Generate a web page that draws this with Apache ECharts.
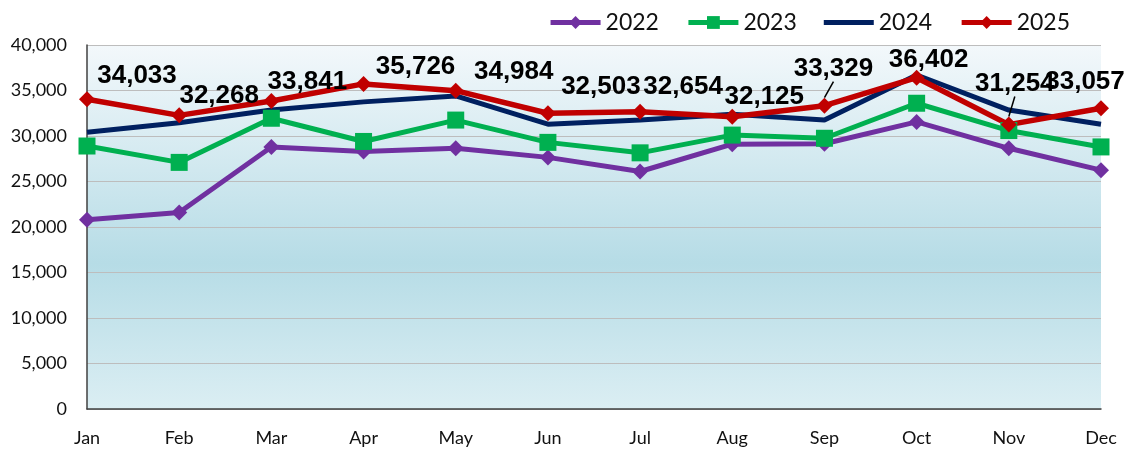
<!DOCTYPE html>
<html>
<head>
<meta charset="utf-8">
<script src="https://cdn.jsdelivr.net/npm/echarts@6/dist/echarts.min.js"></script>
<style>
  html, body { margin: 0; padding: 0; background: #fff; }
  #chart { width: 1131px; height: 450px; }
</style>
</head>
<body>
<div id="chart"></div>
<script>
// Data
var months = ['Jan', 'Feb', 'Mar', 'Apr', 'May', 'Jun', 'Jul', 'Aug', 'Sep', 'Oct', 'Nov', 'Dec'];
var y2022 = [20800, 21600, 28800, 28300, 28650, 27650, 26100, 29100, 29150, 31550, 28650, 26250];
var y2023 = [28900, 27100, 31950, 29400, 31750, 29300, 28150, 30100, 29750, 33600, 30600, 28800];
var y2024 = [30400, 31450, 32850, 33750, 34400, 31300, 31750, 32400, 31750, 36700, 32850, 31300];
var y2025 = [34033, 32268, 33841, 35726, 34984, 32503, 32654, 32125, 33329, 36402, 31254, 33057];
var yTicks = [0, 5000, 10000, 15000, 20000, 25000, 30000, 35000, 40000];

// Label placement for the 2025 values (offset from the point)
var labelOffsets = [[50, -23], [40, -20], [36, -19], [52, -17], [58, -19], [53, -26],
                    [43, -25], [32, -20], [9, -37], [12, -18], [6, -41], [-16, -26]];
var leaderIdx = [8, 10];

var chart = echarts.init(document.getElementById('chart'));

var axisFont = 'Lato, "Open Sans", sans-serif';

chart.setOption({
    animation: false,
    textStyle: { fontFamily: axisFont },
    legend: {
        top: 6,
        right: 56,
        itemWidth: 50,
        itemHeight: 16,
        itemGap: 27,
        lineStyle: { width: 5 },
        textStyle: { fontSize: 23, color: '#111', fontFamily: axisFont },
        data: [
            '2022',
            '2023',
            { name: '2024', icon: 'path://M0,0 L50,0 L50,5 L0,5 Z' },
            '2025'
        ]
    },
    grid: {
        left: 87,
        right: 30,
        top: 45,
        bottom: 41,
        show: true,
        borderWidth: 0,
        backgroundColor: new echarts.graphic.LinearGradient(0, 0, 0, 1, [
            { offset: 0, color: '#f3f8fb' },
            { offset: 0.6, color: '#b6dce6' },
            { offset: 1, color: '#dbeef3' }
        ])
    },
    xAxis: {
        type: 'category',
        data: months,
        boundaryGap: false,
        axisLine: { lineStyle: { color: '#404040', width: 1.5 } },
        axisTick: { show: false },
        axisLabel: { color: '#111', fontSize: 18, margin: 20 }
    },
    yAxis: {
        type: 'value',
        min: yTicks[0],
        max: yTicks[yTicks.length - 1],
        interval: 5000,
        axisLine: { show: true, lineStyle: { color: '#404040', width: 1.5 } },
        axisTick: { show: false },
        splitLine: { lineStyle: { color: '#bdbdbd', width: 1 } },
        axisLabel: {
            color: '#111',
            fontSize: 18,
            margin: 20,
            formatter: function (v) { return v.toLocaleString('en-US'); }
        }
    },
    series: [
        {
            name: '2022',
            type: 'line',
            data: y2022,
            symbol: 'diamond',
            symbolSize: 16,
            color: '#7030a0',
            lineStyle: { width: 5 }
        },
        {
            name: '2023',
            type: 'line',
            data: y2023,
            symbol: 'rect',
            symbolSize: 17,
            color: '#00b050',
            lineStyle: { width: 5 }
        },
        {
            name: '2024',
            type: 'line',
            data: y2024,
            symbol: 'none',
            color: '#002060',
            lineStyle: { width: 5 }
        },
        {
            name: '2025',
            type: 'line',
            symbol: 'diamond',
            symbolSize: 16,
            color: '#c00000',
            lineStyle: { width: 5.5 },
            labelLine: { show: false, lineStyle: { color: '#000', width: 1.5 } },
            data: y2025.map(function (v, i) {
                var item = {
                    value: v,
                    label: {
                        show: true,
                        position: 'inside',
                        offset: labelOffsets[i],
                        color: '#000',
                        fontSize: 26,
                        fontWeight: 'bold',
                        fontFamily: '"Liberation Sans", Arial, sans-serif',
                        formatter: function (p) { return p.value.toLocaleString('en-US'); }
                    }
                };
                if (leaderIdx.indexOf(i) >= 0) {
                    item.labelLine = { show: true, lineStyle: { color: '#000', width: 1.5 } };
                }
                return item;
            })
        }
    ]
});
</script>
</body>
</html>
